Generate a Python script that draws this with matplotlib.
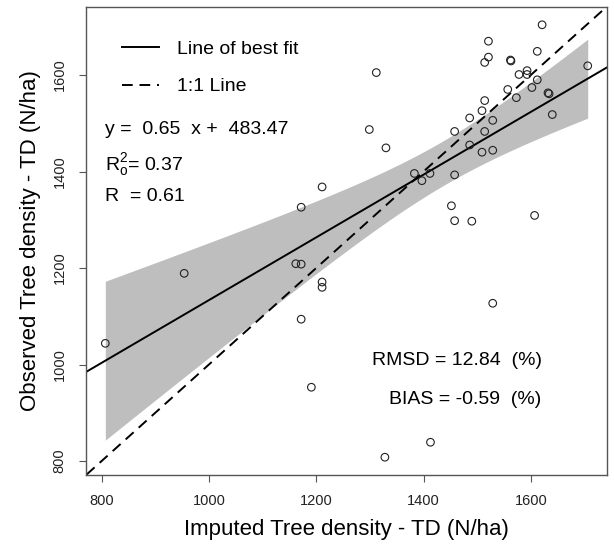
import numpy as np
import matplotlib
matplotlib.use('Agg')
import matplotlib.pyplot as plt

# imputed (x) vs observed (y) tree density, N/ha
imputed = [807, 954, 1211, 1172, 1162, 1172, 1211, 1211, 1172, 1191,
           1328, 1413, 1529, 1452, 1458, 1490, 1607, 1299, 1330, 1383,
           1397, 1412, 1458, 1458, 1486, 1486, 1509, 1529, 1514, 1509,
           1529, 1514, 1621, 1521, 1521, 1514, 1562, 1563, 1612, 1706,
           1578, 1593, 1593, 1612, 1557, 1602, 1573, 1632, 1634, 1640,
           1312]
observed = [1044, 1189, 1368, 1326, 1209, 1208, 1171, 1160, 1094, 953,
            808, 839, 1127, 1329, 1298, 1297, 1309, 1487, 1449, 1396,
            1381, 1396, 1393, 1483, 1455, 1511, 1440, 1444, 1483, 1526,
            1506, 1547, 1704, 1670, 1637, 1626, 1631, 1629, 1649, 1619,
            1601, 1609, 1601, 1590, 1570, 1574, 1553, 1563, 1561, 1518,
            1605]

slope = 0.65
intercept = 483.47
r2 = 0.37
r = 0.61
rmsd = 12.84
bias = -0.59
ticks = [800, 1000, 1200, 1400, 1600]

plt.rcParams['font.family'] = ['Liberation Sans', 'DejaVu Sans']
plt.rcParams['mathtext.fontset'] = 'custom'
plt.rcParams['mathtext.rm'] = 'Liberation Sans'

x = np.array(imputed, dtype=float)
y = np.array(observed, dtype=float)
n = len(x)

# confidence band of the fitted line (95%)
resid = y - (intercept + slope * x)
s = np.sqrt(np.sum(resid ** 2) / (n - 2))
sxx = np.sum((x - x.mean()) ** 2)
xs = np.linspace(x.min(), x.max(), 100)
fit = intercept + slope * xs
half = 2.01 * s * np.sqrt(1 / n + (xs - x.mean()) ** 2 / sxx)

fig = plt.figure(figsize=(6.14, 5.51), dpi=100)
ax = fig.add_axes([0.1401, 0.1388, 0.8485, 0.8476])

ax.fill_between(xs, fit - half, fit + half, color='#bebebe', lw=0, zorder=1)
ax.scatter(x, y, s=30, facecolors='none', edgecolors='#222222', linewidths=0.8, zorder=3)

rx = x.max() - x.min()
ry = y.max() - y.min()
xlo, xhi = x.min() - 0.04 * rx, x.max() + 0.04 * rx
ylo, yhi = y.min() - 0.04 * ry, y.max() + 0.04 * ry
ax.set_xlim(xlo, xhi)
ax.set_ylim(ylo, yhi)

ax.axline((0, intercept), slope=slope, color='black', lw=1.4, zorder=2,
          label='Line of best fit')
ax.axline((0, 0), slope=1, color='black', lw=1.4, ls=(0, (5.5, 3.5)), zorder=2,
          label='1:1 Line')

ax.set_xticks(ticks)
ax.set_yticks(ticks)
ax.tick_params(length=5, width=0.8, color='#555555', labelsize=10.5,
               labelcolor='#222222', pad=9)
for lab in ax.get_yticklabels():
    lab.set_rotation(90)
    lab.set_va('center')
for sp in ax.spines.values():
    sp.set_color('#555555')
    sp.set_linewidth(1.0)

ax.set_xlabel('Imputed Tree density - TD (N/ha)', fontsize=16, labelpad=8)
ax.set_ylabel('Observed Tree density - TD (N/ha)', fontsize=16, labelpad=8)

ax.legend(loc='upper left', bbox_to_anchor=(0.069, 0.929), frameon=False,
          fontsize=14, handlelength=1.9, handletextpad=0.95, labelspacing=1.0,
          borderpad=0, borderaxespad=0)

ax.text(0.0365, 0.7377, f'y =  {slope}  x +  {intercept}', transform=ax.transAxes,
        fontsize=14, va='center')
ax.text(0.0365, 0.6627, r'R$\mathregular{_o^2}$= ' + f'{r2}', transform=ax.transAxes,
        fontsize=14, va='center')
ax.text(0.0365, 0.596, f'R  = {r}', transform=ax.transAxes, fontsize=14, va='center')
ax.text(0.8747, 0.245, f'RMSD = {rmsd}  (%)', transform=ax.transAxes,
        fontsize=14, va='center', ha='right')
ax.text(0.8747, 0.1617, f'BIAS = {bias}  (%)', transform=ax.transAxes,
        fontsize=14, va='center', ha='right')

fig.savefig('out.png', dpi=100)
